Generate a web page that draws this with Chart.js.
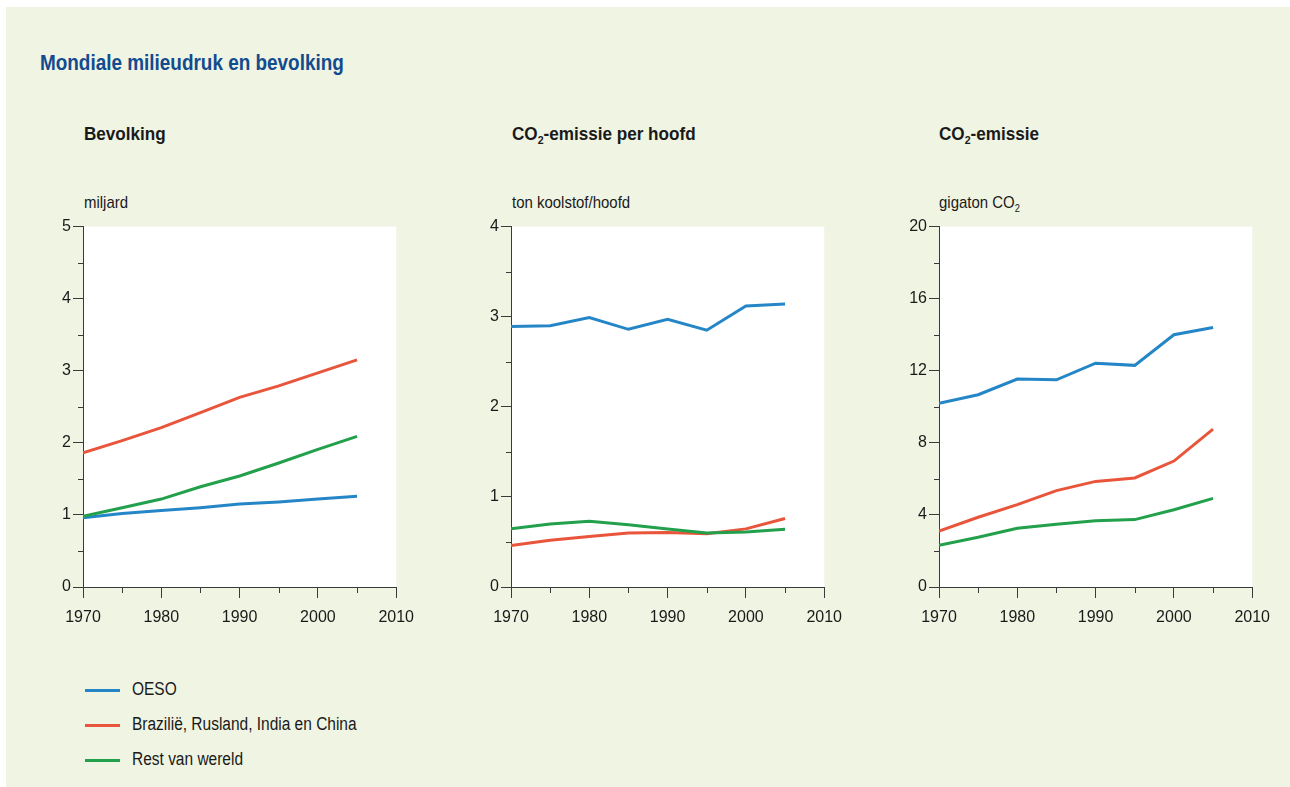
<!DOCTYPE html>
<html lang="nl">
<head>
<meta charset="utf-8">
<title>Mondiale milieudruk en bevolking</title>
<script src="https://cdn.jsdelivr.net/npm/chart.js@4.4.1/dist/chart.umd.min.js"></script>
<style>
  html, body { margin: 0; padding: 0; background: #ffffff; }
  body { width: 1290px; height: 787px; position: relative; overflow: hidden;
         font-family: 'Liberation Sans', Arial, sans-serif; color: #1a1a1a; }
  #panel { position: absolute; left: 6px; top: 7px; width: 1284px; height: 780px; background: #f0f4e3; }
  .abs { position: absolute; white-space: nowrap; transform-origin: 0 50%; }
  h1 { position: absolute; margin: 0; left: 40px; top: 50px; font-size: 22px; font-weight: bold; color: #124b8e;
       white-space: nowrap; transform: scaleX(0.86); transform-origin: 0 50%; }
  .ptitle { font-size: 19px; font-weight: bold; top: 123px; transform: scaleX(0.9); }
  .unit { font-size: 17px; top: 193px; transform: scaleX(0.88); }
  sub { font-size: 62%; vertical-align: -0.35em; line-height: 0; }
  .wrap { position: absolute; width: 384px; height: 420px; top: 215px; }
  .legend-row { position: absolute; left: 85px; height: 22px; font-size: 18px; }
  .legend-row span.sw { position: absolute; left: 0; top: 10px; width: 35px; height: 3px; }
  .legend-row span.tx { position: absolute; left: 47px; top: 0; white-space: nowrap;
                        transform: scaleX(0.86); transform-origin: 0 50%; }
</style>
</head>
<body>
<div id="panel"></div>
<h1>Mondiale milieudruk en bevolking</h1>

<div class="abs ptitle" style="left:84px">Bevolking</div>
<div class="abs ptitle" style="left:512px">CO<sub>2</sub>-emissie per hoofd</div>
<div class="abs ptitle" style="left:939px">CO<sub>2</sub>-emissie</div>

<div class="abs unit" style="left:84px">miljard</div>
<div class="abs unit" style="left:512px">ton koolstof/hoofd</div>
<div class="abs unit" style="left:939px">gigaton CO<sub>2</sub></div>

<div class="wrap" style="left:40px"><canvas id="chartBevolking"></canvas></div>
<div class="wrap" style="left:468px"><canvas id="chartPerHoofd"></canvas></div>
<div class="wrap" style="left:896px"><canvas id="chartEmissie"></canvas></div>

<div id="legend"></div>

<script>
// --- data ---
const jaren = [1970, 1975, 1980, 1985, 1990, 1995, 2000, 2005];
const reeksNamen = ['OESO', 'Brazilië, Rusland, India en China', 'Rest van wereld'];

// bevolking (miljard)
const bevOeso = [0.96, 1.02, 1.06, 1.10, 1.15, 1.18, 1.22, 1.26];
const bevBric = [1.86, 2.03, 2.21, 2.42, 2.63, 2.79, 2.97, 3.15];
const bevRest = [0.98, 1.10, 1.22, 1.39, 1.54, 1.72, 1.91, 2.09];

// CO2-emissie per hoofd (ton koolstof/hoofd)
const phOeso = [2.89, 2.90, 2.99, 2.86, 2.97, 2.85, 3.12, 3.14];
const phBric = [0.46, 0.52, 0.56, 0.60, 0.605, 0.59, 0.645, 0.76];
const phRest = [0.645, 0.70, 0.73, 0.69, 0.645, 0.60, 0.61, 0.64];

// CO2-emissie (gigaton CO2)
const emOeso = [10.19, 10.67, 11.54, 11.50, 12.42, 12.30, 14.00, 14.40];
const emBric = [3.10, 3.87, 4.57, 5.35, 5.86, 6.05, 6.99, 8.76];
const emRest = [2.32, 2.76, 3.26, 3.48, 3.67, 3.74, 4.29, 4.92];

// as-instellingen: [max, hoofdstap, tussenstap]
const asBevolking = [5, 1, 0.5];
const asPerHoofd = [4, 1, 0.5];
const asEmissie = [20, 4, 2];

const kleuren = ['#2586c7', '#e9553b', '#22a04b'];
const lettertype = "'Liberation Sans', Arial, sans-serif";
const asKleur = '#3a3a3a';

// witte plotvlak achter de lijnen
const plotVlak = {
  id: 'plotVlak',
  beforeDraw(chart) {
    const a = chart.chartArea;
    chart.ctx.save();
    chart.ctx.fillStyle = '#ffffff';
    chart.ctx.fillRect(a.left, a.top, a.right - a.left, a.bottom - a.top);
    chart.ctx.restore();
  }
};

// korte tussenstreepjes op beide assen
const tussenTicks = {
  id: 'tussenTicks',
  afterDraw(chart, args, opts) {
    const ctx = chart.ctx;
    ctx.save();
    ctx.strokeStyle = asKleur;
    ctx.lineWidth = 1;
    ['x', 'y'].forEach(id => {
      const s = chart.scales[id];
      const [hoofd, tussen] = opts[id];
      for (let v = s.min; v <= s.max + 1e-9; v += tussen) {
        const r = Math.abs(v / hoofd - Math.round(v / hoofd));
        if (r < 1e-6) continue;
        const p = Math.round(s.getPixelForValue(v)) + 0.5;
        ctx.beginPath();
        if (id === 'y') {
          ctx.moveTo(s.right - 5, p);
          ctx.lineTo(s.right, p);
        } else {
          ctx.moveTo(p, s.top);
          ctx.lineTo(p, s.top + 6);
        }
        ctx.stroke();
      }
    });
    ctx.restore();
  }
};

function maakGrafiek(id, reeksen, as) {
  const [max, hoofd, tussen] = as;
  new Chart(document.getElementById(id), {
    type: 'line',
    data: {
      datasets: reeksen.map((waarden, i) => ({
        label: reeksNamen[i],
        data: jaren.map((j, k) => ({ x: j, y: waarden[k] })),
        borderColor: kleuren[i],
        borderWidth: 3,
        pointRadius: 0,
        tension: 0,
        fill: false
      })).reverse()
    },
    options: {
      responsive: true,
      maintainAspectRatio: false,
      animation: false,
      events: [],
      layout: { padding: { left: 0, right: 20, top: 10, bottom: 0 } },
      plugins: {
        legend: { display: false },
        tooltip: { enabled: false },
        tussenTicks: { x: [10, 5], y: [hoofd, tussen] }
      },
      scales: {
        x: {
          type: 'linear',
          min: 1970,
          max: 2010,
          afterFit(s) { s.height = 48; },
          border: { display: true, color: asKleur, width: 1 },
          grid: { drawOnChartArea: false, drawTicks: true, tickLength: 11, color: asKleur },
          ticks: {
            stepSize: 10,
            padding: 10,
            maxRotation: 0,
            color: '#1a1a1a',
            font: { family: lettertype, size: 16 },
            callback: v => String(v)
          }
        },
        y: {
          min: 0,
          max: max,
          afterFit(s) { s.width = 43; },
          border: { display: true, color: asKleur, width: 1 },
          grid: { drawOnChartArea: false, drawTicks: true, tickLength: 10, color: asKleur },
          ticks: {
            stepSize: hoofd,
            padding: 2,
            color: '#1a1a1a',
            font: { family: lettertype, size: 16 }
          }
        }
      }
    },
    plugins: [plotVlak, tussenTicks]
  });
}

document.addEventListener('DOMContentLoaded', function () {
  maakGrafiek('chartBevolking', [bevOeso, bevBric, bevRest], asBevolking);
  maakGrafiek('chartPerHoofd', [phOeso, phBric, phRest], asPerHoofd);
  maakGrafiek('chartEmissie', [emOeso, emBric, emRest], asEmissie);

  // legenda onder de grafieken
  const legenda = document.getElementById('legend');
  reeksNamen.forEach((naam, i) => {
    const rij = document.createElement('div');
    rij.className = 'legend-row';
    rij.style.top = (679 + i * 35) + 'px';
    rij.innerHTML = '<span class="sw" style="background:' + kleuren[i] + '"></span><span class="tx">' + naam + '</span>';
    legenda.appendChild(rij);
  });
});
</script>
</body>
</html>
